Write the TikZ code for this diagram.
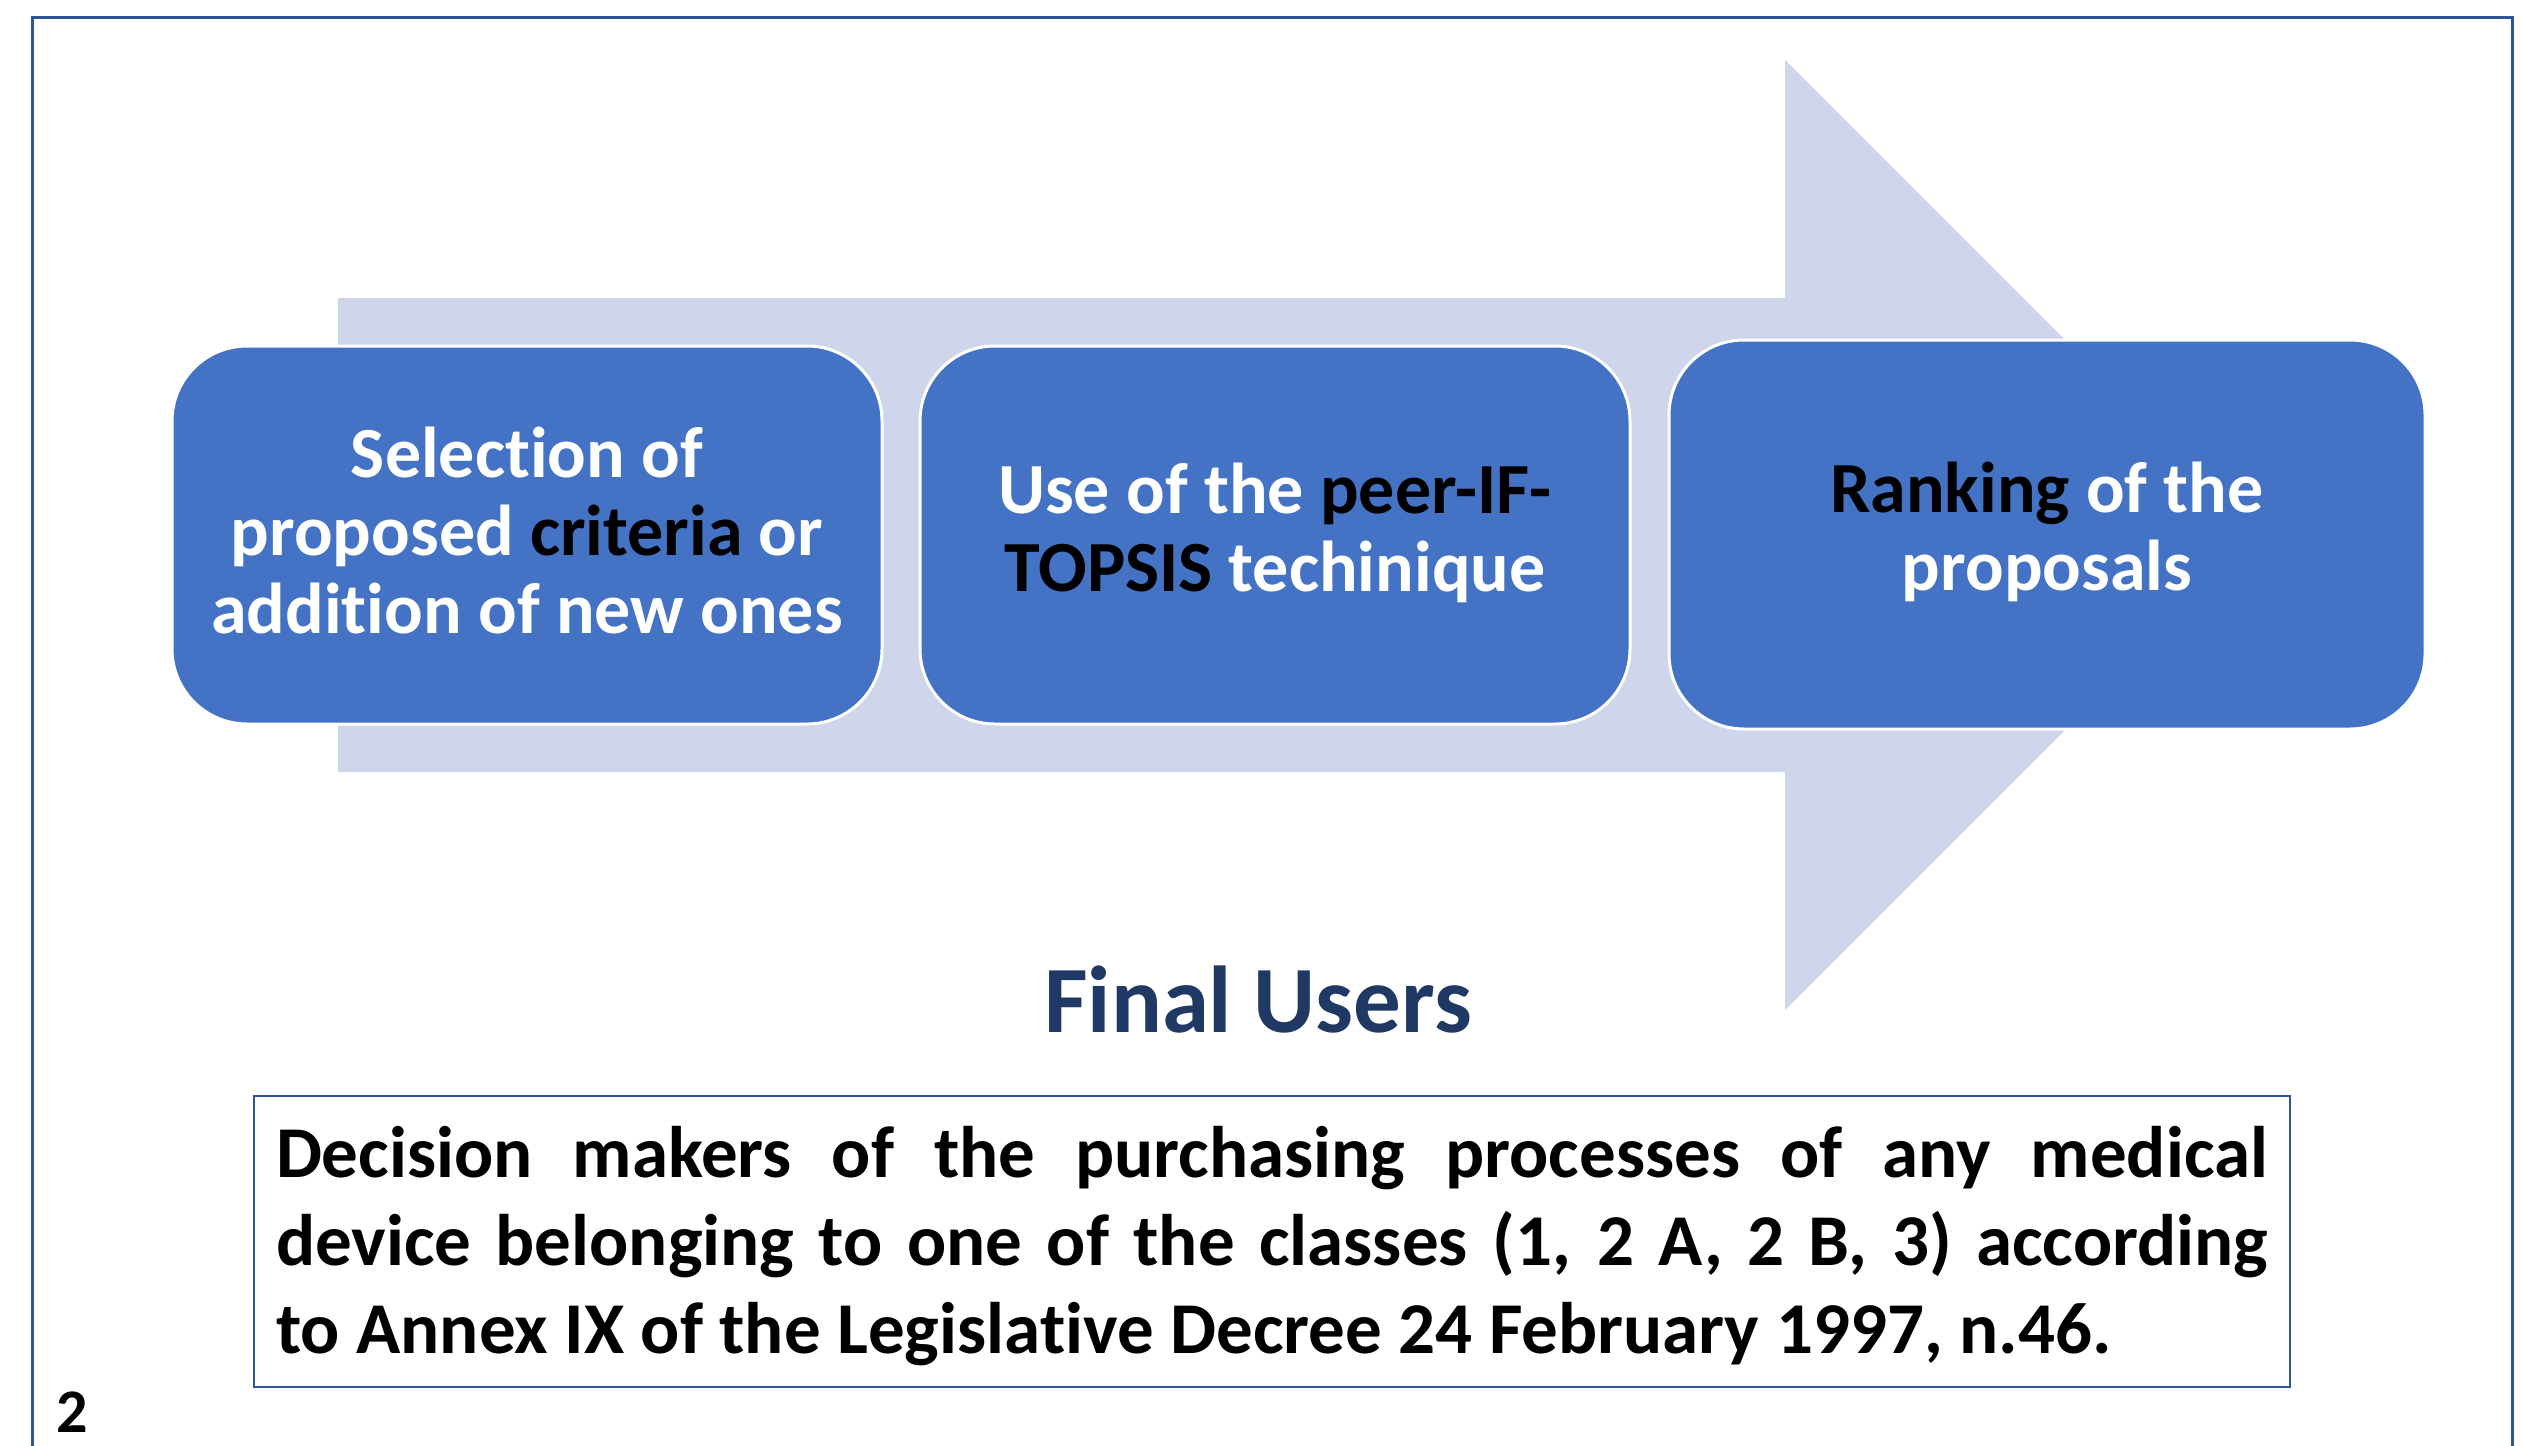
\documentclass[tikz,border=0pt]{standalone}
\usepackage{fontspec}
\setmainfont[RawFeature={-liga;-clig;-calt;-dlig}]{Carlito}
\definecolor{boxblue}{HTML}{4472C4}
\definecolor{arrowlav}{HTML}{CFD5EA}
\definecolor{framecol}{HTML}{2F5597}
\definecolor{navy}{HTML}{203864}
\tikzset{
  stepbox/.style={fill=boxblue, draw=white, line width=3pt, rounded corners=75pt,
    inner sep=0pt, align=center, text=white,
    font=\fontsize{72pt}{78pt}\selectfont\bfseries},
  titletext/.style={text=navy, inner sep=0pt, font=\fontsize{95pt}{100pt}\selectfont\bfseries},
  usersbox/.style={draw=framecol, line width=2pt, inner sep=0pt,
    minimum width=2036pt, minimum height=291pt},
  userstext/.style={inner sep=0pt, text width=1992pt, align=justify,
    font=\fontsize{73pt}{88pt}\selectfont\bfseries},
  pagenum/.style={inner sep=0pt, font=\fontsize{62pt}{62pt}\selectfont\bfseries}
}
\begin{document}
\begin{tikzpicture}[x=1pt,y=-1pt]
\useasboundingbox (0,0) rectangle (2523,1445);
\fill[white] (0,0) rectangle (2523,1445);
% frame
\coordinate (fbl) at (32,1450);
\coordinate (ftl) at (32,18);
\coordinate (ftr) at (2512,18);
\coordinate (fbr) at (2512,1450);
\draw[framecol, line width=3pt] (fbl) -- (ftl) -- (ftr) -- (fbr);
% big arrow
\fill[arrowlav] (338,298) -- (1785,298) -- (1785,60) -- (2260,535) -- (1785,1010) -- (1785,772) -- (338,772) -- cycle;
% steps
\node[stepbox, minimum width=710pt, minimum height=378pt] (b1) at (527,535) {};
\node[stepbox, fill=none, draw=none] (t1) at (527,530)
  {Selection of\\proposed \textcolor{black}{criteria} or\\addition of new ones};
\node[stepbox, minimum width=710pt, minimum height=378pt] (b2) at (1275,535) {};
\node[stepbox, fill=none, draw=none] (t2) at (1275,533)
  {Use of the \textcolor{black}{peer-IF-}\\\textcolor{black}{TOPSIS} techinique};
\node[stepbox, minimum width=756pt, minimum height=389pt] (b3) at (2047,534.5) {};
\node[stepbox, fill=none, draw=none] (t3) at (2047,532)
  {\textcolor{black}{Ranking} of the\\proposals};
% final users
\node[titletext, anchor=base] (fu) at (1258,1032) {Final Users};
\node[usersbox] (ub) at (1272,1241) {};
\node[userstext] (ut) at (1272,1246)
  {\hyphenpenalty=10000 Decision makers of the purchasing processes of any medical\linebreak device belonging to one of the classes (1, 2 A, 2 B, 3) according\linebreak to Annex IX of the Legislative Decree 24 February 1997, n.46.};
\node[pagenum, anchor=base west] (pn) at (56,1432) {2};
\end{tikzpicture}
\end{document}
